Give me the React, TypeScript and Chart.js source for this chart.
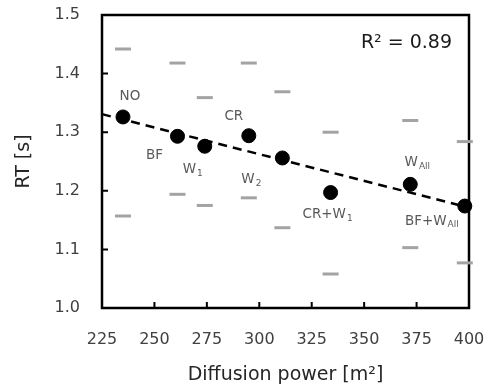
import React, { useEffect, useRef } from 'react';
import { Chart, registerables } from 'chart.js';

Chart.register(...registerables);

// ---- data ----
const conditionNames = ['NO', 'BF', 'W', 'CR', 'W', 'CR+W', 'W', 'BF+W'];
const conditionSubs = ['', '', '1', '', '2', '1', 'All', 'All'];
const diffusionPower = [235, 261, 274, 295, 311, 334, 372, 398];
const meanRT = [1.326, 1.293, 1.276, 1.294, 1.256, 1.197, 1.211, 1.174];
const maxRT = [1.442, 1.418, 1.359, 1.418, 1.369, 1.3, 1.32, 1.284];
const minRT = [1.157, 1.194, 1.175, 1.188, 1.137, 1.058, 1.103, 1.077];
const xTicks = [225, 250, 275, 300, 325, 350, 375, 400];
const yTicks = [1.0, 1.1, 1.2, 1.3, 1.4, 1.5];
const r2Text = 'R\u00B2 = 0.89';

// label placement relative to each point (px)
const labelOffsets: [number, number][] = [
  [7, -20], [-23, 19], [-12, 23], [-15, -19], [-31, 22], [-3, 22], [7, -22], [-33, 15],
];

const FONT = '"DejaVu Sans", Verdana, sans-serif';

function linearFit(xs: number[], ys: number[]) {
  const n = xs.length;
  const mx = xs.reduce((a, b) => a + b, 0) / n;
  const my = ys.reduce((a, b) => a + b, 0) / n;
  let sxy = 0;
  let sxx = 0;
  for (let i = 0; i < n; i++) {
    sxy += (xs[i] - mx) * (ys[i] - my);
    sxx += (xs[i] - mx) ** 2;
  }
  const slope = sxy / sxx;
  return { slope, intercept: my - slope * mx };
}

const decorPlugin = {
  id: 'decor',
  beforeDatasetsDraw(chart: any) {
    const { ctx, chartArea: a, scales } = chart;
    ctx.save();
    ctx.strokeStyle = '#000';
    ctx.lineWidth = 2.5;
    ctx.strokeRect(a.left, a.top, a.right - a.left, a.bottom - a.top);
    ctx.lineWidth = 2;
    ctx.beginPath();
    scales.y.ticks.forEach((t: any) => {
      const y = scales.y.getPixelForValue(t.value);
      ctx.moveTo(a.left, y);
      ctx.lineTo(a.left + 6, y);
    });
    scales.x.ticks.forEach((t: any) => {
      const x = scales.x.getPixelForValue(t.value);
      ctx.moveTo(x, a.bottom);
      ctx.lineTo(x, a.bottom - 6);
    });
    ctx.stroke();
    ctx.restore();
  },
  afterDatasetsDraw(chart: any) {
    const { ctx, chartArea: a, scales } = chart;
    ctx.save();
    ctx.textBaseline = 'middle';
    ctx.fillStyle = '#595959';
    const mainFont = `13.5px ${FONT}`;
    const subFont = `9px ${FONT}`;
    for (let i = 0; i < diffusionPower.length; i++) {
      const px = scales.x.getPixelForValue(diffusionPower[i]);
      const py = scales.y.getPixelForValue(meanRT[i]);
      const [dx, dy] = labelOffsets[i];
      ctx.font = mainFont;
      const wMain = ctx.measureText(conditionNames[i]).width;
      ctx.font = subFont;
      const wSub = conditionSubs[i] ? ctx.measureText(conditionSubs[i]).width + 1 : 0;
      const x0 = px + dx - (wMain + wSub) / 2;
      const cy = py + dy;
      ctx.textAlign = 'left';
      ctx.font = mainFont;
      ctx.fillText(conditionNames[i], x0, cy);
      if (conditionSubs[i]) {
        ctx.font = subFont;
        ctx.fillText(conditionSubs[i], x0 + wMain + 1, cy + 4);
      }
    }
    ctx.fillStyle = '#1a1a1a';
    ctx.font = `19px ${FONT}`;
    ctx.textAlign = 'right';
    ctx.fillText(r2Text, a.right - 17, a.top + 28);
    ctx.restore();
  },
};

export default function App() {
  const canvasRef = useRef<HTMLCanvasElement | null>(null);

  useEffect(() => {
    if (!canvasRef.current) return;
    const fit = linearFit(diffusionPower, meanRT);
    const xMin = xTicks[0];
    const xMax = xTicks[xTicks.length - 1];
    const trend = [
      { x: xMin, y: fit.intercept + fit.slope * xMin },
      { x: xMax, y: fit.intercept + fit.slope * xMax },
    ];
    const chart = new Chart(canvasRef.current, {
      type: 'scatter',
      data: {
        datasets: [
          {
            label: 'Mean RT',
            data: diffusionPower.map((x, i) => ({ x, y: meanRT[i] })),
            backgroundColor: '#000',
            borderColor: '#000',
            pointRadius: 7,
            pointHoverRadius: 7,
            order: 0,
            clip: false,
          } as any,
          {
            label: 'Trend',
            data: trend,
            showLine: true,
            borderColor: '#000',
            borderWidth: 2.5,
            borderDash: [9, 6],
            pointRadius: 0,
            order: 1,
            clip: false,
          } as any,
          {
            label: 'Max',
            data: diffusionPower.map((x, i) => ({ x, y: maxRT[i] })),
            pointStyle: 'line',
            pointRadius: 8,
            pointHoverRadius: 8,
            borderColor: '#a3a3a3',
            borderWidth: 3,
            order: 2,
            clip: false,
          } as any,
          {
            label: 'Min',
            data: diffusionPower.map((x, i) => ({ x, y: minRT[i] })),
            pointStyle: 'line',
            pointRadius: 8,
            pointHoverRadius: 8,
            borderColor: '#a3a3a3',
            borderWidth: 3,
            order: 2,
            clip: false,
          } as any,
        ],
      },
      options: {
        animation: false,
        responsive: true,
        maintainAspectRatio: false,
        layout: { padding: { left: 0, top: 15, right: 17, bottom: 0 } },
        plugins: { legend: { display: false }, tooltip: { enabled: false } },
        scales: {
          x: {
            type: 'linear',
            min: xMin,
            max: xMax,
            grid: { display: false, drawTicks: false },
            border: { display: false },
            afterBuildTicks: (s: any) => {
              s.ticks = xTicks.map((v) => ({ value: v }));
            },
            afterFit: (s: any) => {
              s.height = 82;
              s.paddingLeft = 0;
              s.paddingRight = 0;
              s.paddingTop = 0;
              s.paddingBottom = 0;
            },
            ticks: {
              padding: 22,
              color: '#404040',
              font: { family: FONT, size: 16 },
              maxRotation: 0,
              callback: (v: any) => String(v),
            },
            title: {
              display: true,
              text: 'Diffusion power [m\u00B2]',
              color: '#262626',
              font: { family: FONT, size: 19 },
              padding: { top: 0, bottom: 4 },
            },
          },
          y: {
            type: 'linear',
            min: yTicks[0],
            max: yTicks[yTicks.length - 1],
            grid: { display: false, drawTicks: false },
            border: { display: false },
            afterBuildTicks: (s: any) => {
              s.ticks = yTicks.map((v) => ({ value: v }));
            },
            afterFit: (s: any) => {
              s.width = 102;
              s.paddingLeft = 0;
              s.paddingRight = 0;
              s.paddingTop = 0;
              s.paddingBottom = 0;
            },
            ticks: {
              padding: 22,
              color: '#404040',
              font: { family: FONT, size: 16 },
              callback: (v: any) => Number(v).toFixed(1),
            },
            title: {
              display: true,
              text: 'RT [s]',
              color: '#262626',
              font: { family: FONT, size: 19 },
              padding: { top: 13, bottom: 0 },
            },
          },
        },
      },
      plugins: [decorPlugin],
    });
    return () => chart.destroy();
  }, []);

  return (
    <div style={{ position: 'fixed', left: 0, top: 0, width: 486, height: 390, background: '#fff' }}>
      <canvas ref={canvasRef} />
    </div>
  );
}
